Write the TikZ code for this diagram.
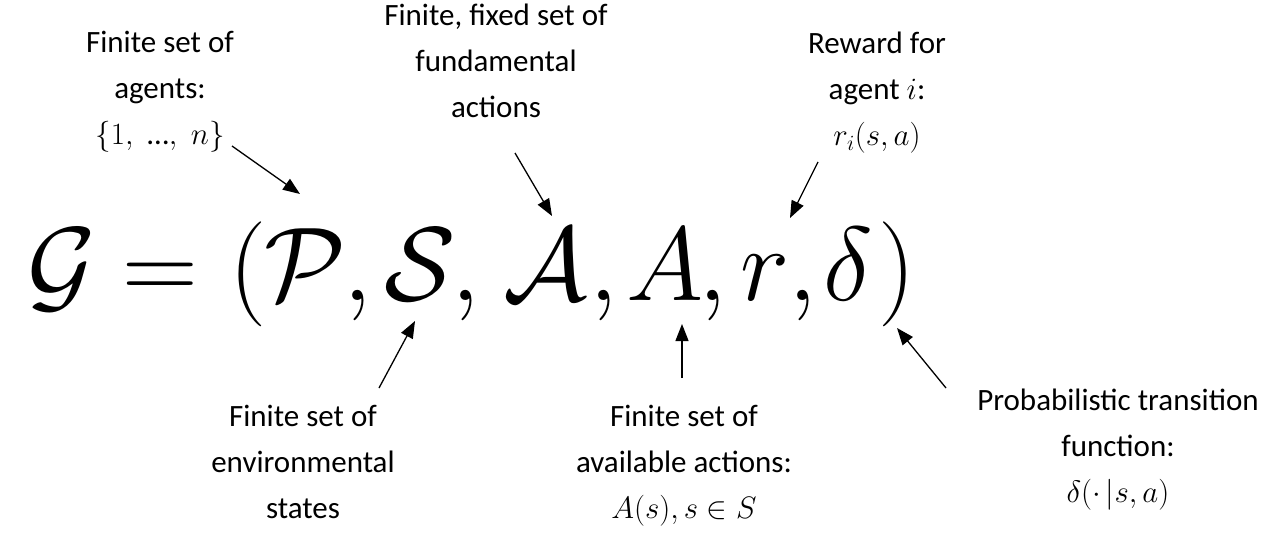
\RequirePackage{fix-cm}
\documentclass[tikz,border=0pt]{standalone}
\usepackage{fontspec}
\setmainfont{Carlito}
\usetikzlibrary{arrows.meta}
\begin{document}
\begin{tikzpicture}[x=1pt,y=-1pt,
  lbl/.style={align=center,inner sep=0pt,anchor=north,font=\fontsize{31}{46}\selectfont},
  sym/.style={anchor=base,inner sep=0pt,font=\fontsize{105}{120}\selectfont},
  ptr/.style={line width=1.3pt,-{Triangle[length=17pt,width=13pt]}}]
\useasboundingbox (0,0) rectangle (1278,535);
% formula
\node[sym] (G)  at (62,300)  {$\mathcal{G}$};
\node[sym] (eq) at (160,300) {$=$};
\node[sym] (lp) at (248,300) {$($};
\node[sym] (P)  at (305,300) {$\mathcal{P}$};
\node[sym] (c1) at (358,300) {$,$};
\node[sym] (S)  at (420,300) {$\mathcal{S}$};
\node[sym] (c2) at (466,300) {$,$};
\node[sym] (cA) at (545,300) {$\mathcal{A}$};
\node[sym] (c3) at (604,300) {$,$};
\node[sym] (A)  at (665,300) {$A$};
\node[sym] (c4) at (713,300) {$,$};
\node[sym] (r)  at (765,300) {$r$};
\node[sym] (c5) at (803,300) {$,$};
\node[sym] (d)  at (848,300) {$\delta$};
\node[sym] (rp) at (897,300) {$)$};
% labels
\node[lbl] (L1) at (160,31)   {Finite set of\\agents:\\$\{1,\;\mbox{…},\;n\}$};
\node[lbl] (L2) at (496,4)    {Finite, fixed set of\\fundamental\\actions};
\node[lbl] (L3) at (877,32)   {Reward for\\agent $i$:\\$r_i(s,a)$};
\node[lbl] (L4) at (303,405)  {Finite set of\\environmental\\states};
\node[lbl] (L5) at (684,405)  {Finite set of\\available actions:\\$A(s), s\in S$};
\node[lbl] (L6) at (1118,389) {Probabilistic transition\\function:\\$\delta(\cdot\,|s,a)$};
% arrow ends
\coordinate (t1) at (232,146); \coordinate (h1) at (300,194);
\coordinate (t2) at (515,153); \coordinate (h2) at (552,216);
\coordinate (t3) at (818,162); \coordinate (h3) at (790,218);
\coordinate (t4) at (379,388); \coordinate (h4) at (415,321);
\coordinate (t5) at (682,378); \coordinate (h5) at (682,324);
\coordinate (t6) at (946,388); \coordinate (h6) at (897,328);
\draw[ptr] (t1) -- (h1);
\draw[ptr] (t2) -- (h2);
\draw[ptr] (t3) -- (h3);
\draw[ptr] (t4) -- (h4);
\draw[ptr] (t5) -- (h5);
\draw[ptr] (t6) -- (h6);
\end{tikzpicture}
\end{document}
